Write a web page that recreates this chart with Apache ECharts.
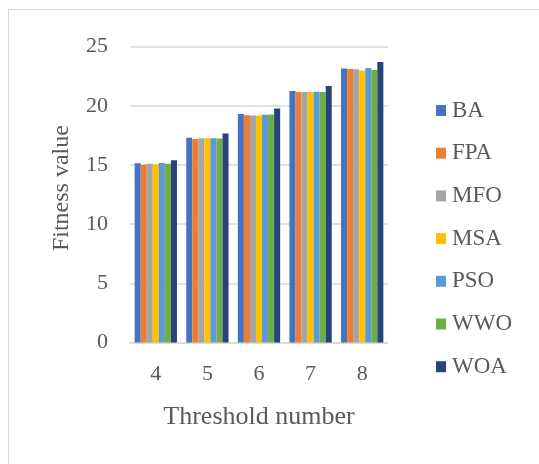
<!DOCTYPE html>
<html>
<head>
<meta charset="utf-8">
<script src="https://cdn.jsdelivr.net/npm/echarts@6/dist/echarts.min.js"></script>
<style>
  html, body { margin: 0; padding: 0; background: #ffffff; }
  #chart { width: 539px; height: 464px; }
</style>
</head>
<body>
<div id="chart"></div>
<script>
// Fitness value per threshold number for each optimisation algorithm
const thresholds = ['4', '5', '6', '7', '8'];
const BA  = [15.14, 17.30, 19.32, 21.26, 23.15];
const FPA = [15.02, 17.19, 19.21, 21.18, 23.12];
const MFO = [15.10, 17.27, 19.18, 21.18, 23.09];
const MSA = [15.06, 17.27, 19.18, 21.18, 22.98];
const PSO = [15.17, 17.27, 19.24, 21.20, 23.20];
const WWO = [15.10, 17.24, 19.27, 21.18, 23.03];
const WOA = [15.40, 17.67, 19.78, 21.68, 23.70];
const yTicks = [0, 5, 10, 15, 20, 25];

const seriesNames = ['BA', 'FPA', 'MFO', 'MSA', 'PSO', 'WWO', 'WOA'];
const seriesData = [BA, FPA, MFO, MSA, PSO, WWO, WOA];
const palette = ['#4472C4', '#ED7D31', '#A5A5A5', '#FFC000', '#5B9BD5', '#70AD47', '#264478'];

const serif = '"Liberation Serif", "DejaVu Serif", serif';
const textColor = '#595959';

const chart = echarts.init(document.getElementById('chart'), null, { renderer: 'canvas' });

chart.setOption({
  animation: false,
  backgroundColor: '#ffffff',
  color: palette,
  graphic: [{
    type: 'rect',
    shape: { x: 8.5, y: 9.5, width: 540, height: 470 },
    style: { fill: 'none', stroke: '#d9d9d9', lineWidth: 1 },
    silent: true
  }],
  grid: { left: 130, right: 151, top: 46.7, bottom: 121.5 },
  legend: {
    orient: 'vertical',
    left: 436,
    top: 99,
    padding: 0,
    itemWidth: 10,
    itemHeight: 11,
    itemGap: 19.7,
    icon: 'rect',
    data: seriesNames,
    textStyle: {
      fontFamily: serif,
      fontSize: 23,
      lineHeight: 23,
      color: textColor,
      padding: [0, 0, 0, 1]
    }
  },
  xAxis: {
    type: 'category',
    data: thresholds,
    name: 'Threshold number',
    nameLocation: 'middle',
    nameGap: 62,
    nameTextStyle: { fontFamily: serif, fontSize: 26, color: textColor },
    axisLine: { show: true, lineStyle: { color: '#d9d9d9', width: 1.5 } },
    axisTick: { show: false },
    axisLabel: { fontFamily: serif, fontSize: 22, color: textColor, margin: 21 }
  },
  yAxis: {
    type: 'value',
    min: yTicks[0],
    max: yTicks[yTicks.length - 1],
    interval: yTicks[1] - yTicks[0],
    name: 'Fitness value',
    nameLocation: 'middle',
    nameGap: 56,
    nameTextStyle: { fontFamily: serif, fontSize: 24, color: textColor, padding: [0, 0, 0, 13] },
    axisLine: { show: false },
    axisTick: { show: false },
    splitLine: { lineStyle: { color: '#d9d9d9', width: 1.5 } },
    axisLabel: { fontFamily: serif, fontSize: 22, color: textColor, margin: 22, padding: [7, 0, 0, 0] }
  },
  series: seriesNames.map((name, i) => ({
    name: name,
    type: 'bar',
    data: seriesData[i],
    barGap: '0%',
    barCategoryGap: '18%',
    itemStyle: { color: palette[i] }
  }))
});
</script>
</body>
</html>
